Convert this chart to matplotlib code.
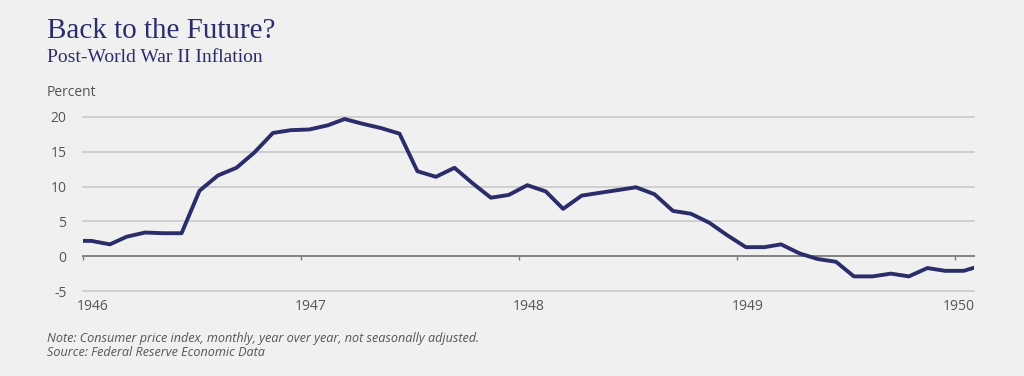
import numpy as np
import pandas as pd
import matplotlib.pyplot as plt
import matplotlib.transforms as mtransforms
from datetime import datetime

# CPI year-over-year, monthly, Dec 1945 - Feb 1950 (plotted mid-month)
months = pd.date_range('1945-12-01', '1950-02-01', freq='MS') + pd.Timedelta(days=14)
inflation = [2.2,
             2.2, 1.7, 2.8, 3.4, 3.3, 3.3, 9.4, 11.6, 12.7, 14.9, 17.7, 18.1,
             18.2, 18.8, 19.7, 19.0, 18.4, 17.6, 12.2, 11.4, 12.7, 10.5, 8.4, 8.8,
             10.2, 9.3, 6.8, 8.7, 9.1, 9.5, 9.9, 8.9, 6.5, 6.1, 4.8, 3.0,
             1.3, 1.3, 1.7, 0.4, -0.4, -0.8, -2.9, -2.9, -2.5, -2.9, -1.7, -2.1,
             -2.1, -1.3]
year_ticks = [1946, 1947, 1948, 1949, 1950]
y_ticks = [-5, 0, 5, 10, 15, 20]

navy = '#2b2d6a'
bg = '#f0f0f0'
txt = '#555555'

fig = plt.figure(figsize=(10.24, 3.76), dpi=100, facecolor=bg)
ax = fig.add_axes([0.0811, 0.226, 0.870, 0.463], facecolor=bg)

for v in y_ticks:
    if v != 0:
        ax.axhline(v, color='#c6c6c6', lw=1.1, zorder=1, clip_on=False)

ax.plot(months, inflation, color=navy, lw=2.8, solid_joinstyle='round', zorder=3)

ax.set_xlim(datetime(1946, 1, 1), datetime(1950, 2, 1))
ax.set_ylim(-5, 20)

for s in ['top', 'right', 'left']:
    ax.spines[s].set_visible(False)
ax.spines['bottom'].set_position(('data', 0))
ax.spines['bottom'].set_color('#7a7a7a')
ax.spines['bottom'].set_linewidth(1.3)
ax.spines['bottom'].set_zorder(2)

xt = [datetime(y, 1, 1) for y in year_ticks]
ax.set_xticks(xt)
ax.set_xticklabels([str(y) for y in year_ticks])
ax.tick_params(axis='x', direction='out', length=3, width=1, color='#7a7a7a',
               pad=28, labelsize=10, labelcolor=txt)
for lab, dx in zip(ax.get_xticklabels(), [10, 10, 10, 10, 3]):
    lab.set_transform(lab.get_transform() +
                      mtransforms.ScaledTranslation(dx / 100, 0, fig.dpi_scale_trans))
    lab.set_fontfamily('Open Sans')

ax.set_yticks(y_ticks)
ax.set_yticklabels([str(v) for v in y_ticks], fontfamily='Open Sans')
ax.tick_params(axis='y', length=0, pad=12, labelsize=10, labelcolor=txt)

fig.text(0.046, 0.918, 'Back to the Future?', fontsize=21, color=navy,
         family='Liberation Serif', va='center')
fig.text(0.046, 0.848, 'Post-World War II Inflation', fontsize=14, color=navy,
         family='Liberation Serif', va='center')
fig.text(0.046, 0.755, 'Percent', fontsize=10, color=txt, family='Open Sans', va='center')
fig.text(0.046, 0.101, 'Note: Consumer price index, monthly, year over year, not seasonally adjusted.',
         fontsize=9.1, color=txt, family='Open Sans', style='italic', va='center')
fig.text(0.046, 0.063, 'Source: Federal Reserve Economic Data',
         fontsize=9.1, color=txt, family='Open Sans', style='italic', va='center')

plt.savefig('out.png', dpi=100, facecolor=bg)
